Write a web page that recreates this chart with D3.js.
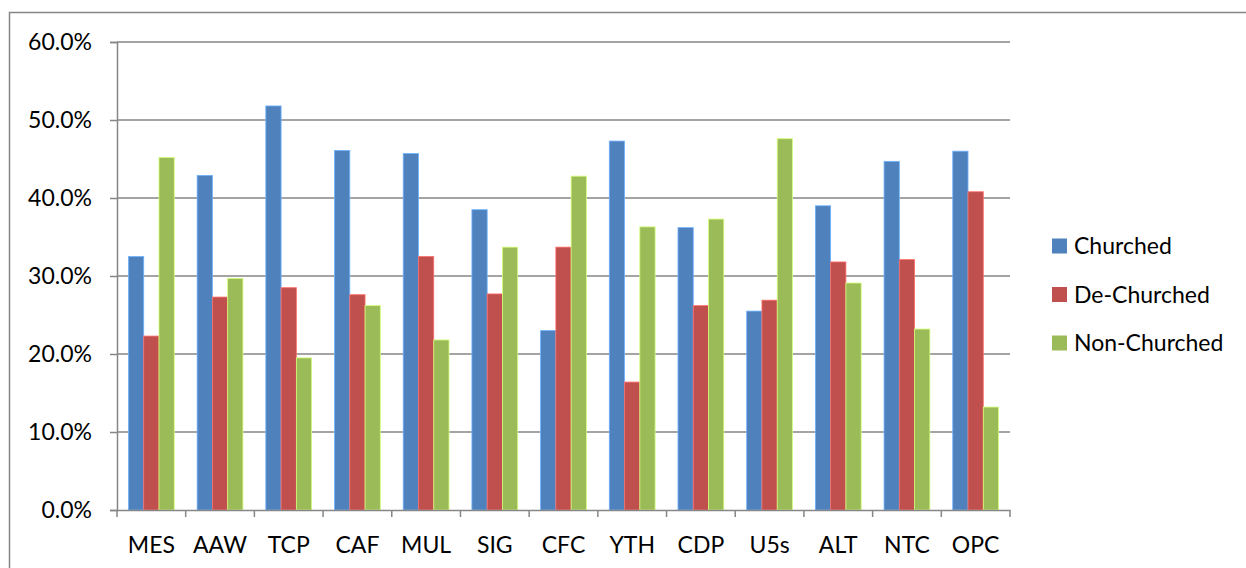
<!DOCTYPE html>
<html>
<head>
<meta charset="utf-8">
<script src="https://cdn.jsdelivr.net/npm/d3@7"></script>
<style>
  body { margin: 0; background: #fff; }
  svg { display: block; font-family: Lato, "Open Sans", sans-serif; }
</style>
</head>
<body>
<div id="chart"></div>
<script>
const categories = ['MES', 'AAW', 'TCP', 'CAF', 'MUL', 'SIG', 'CFC', 'YTH', 'CDP', 'U5s', 'ALT', 'NTC', 'OPC']
const seriesNames = ['Churched', 'De-Churched', 'Non-Churched']
const churched = [32.5, 42.9, 51.8, 46.1, 45.7, 38.5, 23.0, 47.3, 36.2, 25.5, 39.0, 44.7, 46.0]
const deChurched = [22.3, 27.3, 28.5, 27.6, 32.5, 27.7, 33.7, 16.4, 26.2, 26.9, 31.8, 32.1, 40.8]
const nonChurched = [45.2, 29.7, 19.5, 26.2, 21.8, 33.7, 42.8, 36.3, 37.3, 47.6, 29.1, 23.2, 13.2]
const yTicks = [0, 10, 20, 30, 40, 50, 60]
const colors = ['#4F81BD', '#C0504D', '#9BBB59']

const width = 1246, height = 568
const margin = {top: 42, left: 117, right: 236, bottom: 58}
const plotW = width - margin.left - margin.right
const plotH = height - margin.top - margin.bottom
const fontSize = 23

const series = [churched, deChurched, nonChurched]
const rows = categories.map((c, i) => ({cat: c, vals: series.map(s => s[i])}))

const svg = d3.select('#chart').append('svg')
  .attr('width', width)
  .attr('height', height)

// outer chart frame
svg.append('rect')
  .attr('x', 9.5).attr('y', 12.5)
  .attr('width', width + 20).attr('height', height + 20)
  .attr('fill', 'none')
  .attr('stroke', '#868686')
  .attr('stroke-width', 1.5)

const g = svg.append('g').attr('transform', `translate(${margin.left},${margin.top})`)

const x = d3.scaleBand().domain(categories).range([0, plotW]).paddingInner(0).paddingOuter(0)
const xInner = d3.scaleBand().domain(d3.range(seriesNames.length)).range([0, x.bandwidth()])
  .paddingInner(0).paddingOuter(0.75)
const y = d3.scaleLinear().domain([0, 60]).range([plotH, 0])

// gridlines
g.append('g')
  .selectAll('line')
  .data(yTicks.filter(t => t > 0))
  .join('line')
    .attr('x1', 0).attr('x2', plotW)
    .attr('y1', d => y(d)).attr('y2', d => y(d))
    .attr('stroke', '#868686')
    .attr('stroke-width', 1.5)

// bars
g.append('g')
  .selectAll('g')
  .data(rows)
  .join('g')
    .attr('transform', d => `translate(${x(d.cat)},0)`)
  .selectAll('rect')
  .data(d => d.vals)
  .join('rect')
    .attr('x', (d, i) => xInner(i))
    .attr('y', d => y(d))
    .attr('width', xInner.bandwidth())
    .attr('height', d => plotH - y(d))
    .attr('fill', (d, i) => colors[i])
    .attr('stroke', (d, i) => d3.color(colors[i]).brighter(0.9))
    .attr('stroke-width', 0.8)

// y axis
const yAxis = g.append('g')
  .call(d3.axisLeft(y).tickValues(yTicks).tickSize(7).tickPadding(18)
    .tickFormat(d => d.toFixed(1) + '%'))
yAxis.select('.domain').attr('stroke', '#868686').attr('stroke-width', 1.5)
yAxis.selectAll('.tick line').attr('stroke', '#868686').attr('stroke-width', 1.5)
yAxis.selectAll('.tick text').attr('font-size', fontSize).attr('fill', '#000')
  .attr('font-family', 'Lato, sans-serif')

// x axis
const xAxis = g.append('g').attr('transform', `translate(0,${plotH})`)
  .call(d3.axisBottom(x).tickSize(0).tickPadding(27))
xAxis.select('.domain').attr('stroke', '#868686').attr('stroke-width', 1.5)
xAxis.selectAll('.tick text').attr('font-size', fontSize).attr('fill', '#000')
  .attr('font-family', 'Lato, sans-serif')
xAxis.append('g')
  .selectAll('line')
  .data(d3.range(categories.length + 1))
  .join('line')
    .attr('x1', i => i * x.step()).attr('x2', i => i * x.step())
    .attr('y1', 0).attr('y2', 7)
    .attr('stroke', '#868686')
    .attr('stroke-width', 1.5)

// legend
const legend = svg.append('g').attr('transform', 'translate(1052,246)')
const item = legend.selectAll('g')
  .data(seriesNames)
  .join('g')
    .attr('transform', (d, i) => `translate(0,${i * 48.5})`)
item.append('rect')
  .attr('x', 0).attr('y', -7.5)
  .attr('width', 15).attr('height', 15)
  .attr('fill', (d, i) => colors[i])
item.append('text')
  .attr('x', 22).attr('y', 0)
  .attr('dy', '0.35em')
  .attr('font-size', fontSize)
  .text(d => d)
</script>
</body>
</html>
